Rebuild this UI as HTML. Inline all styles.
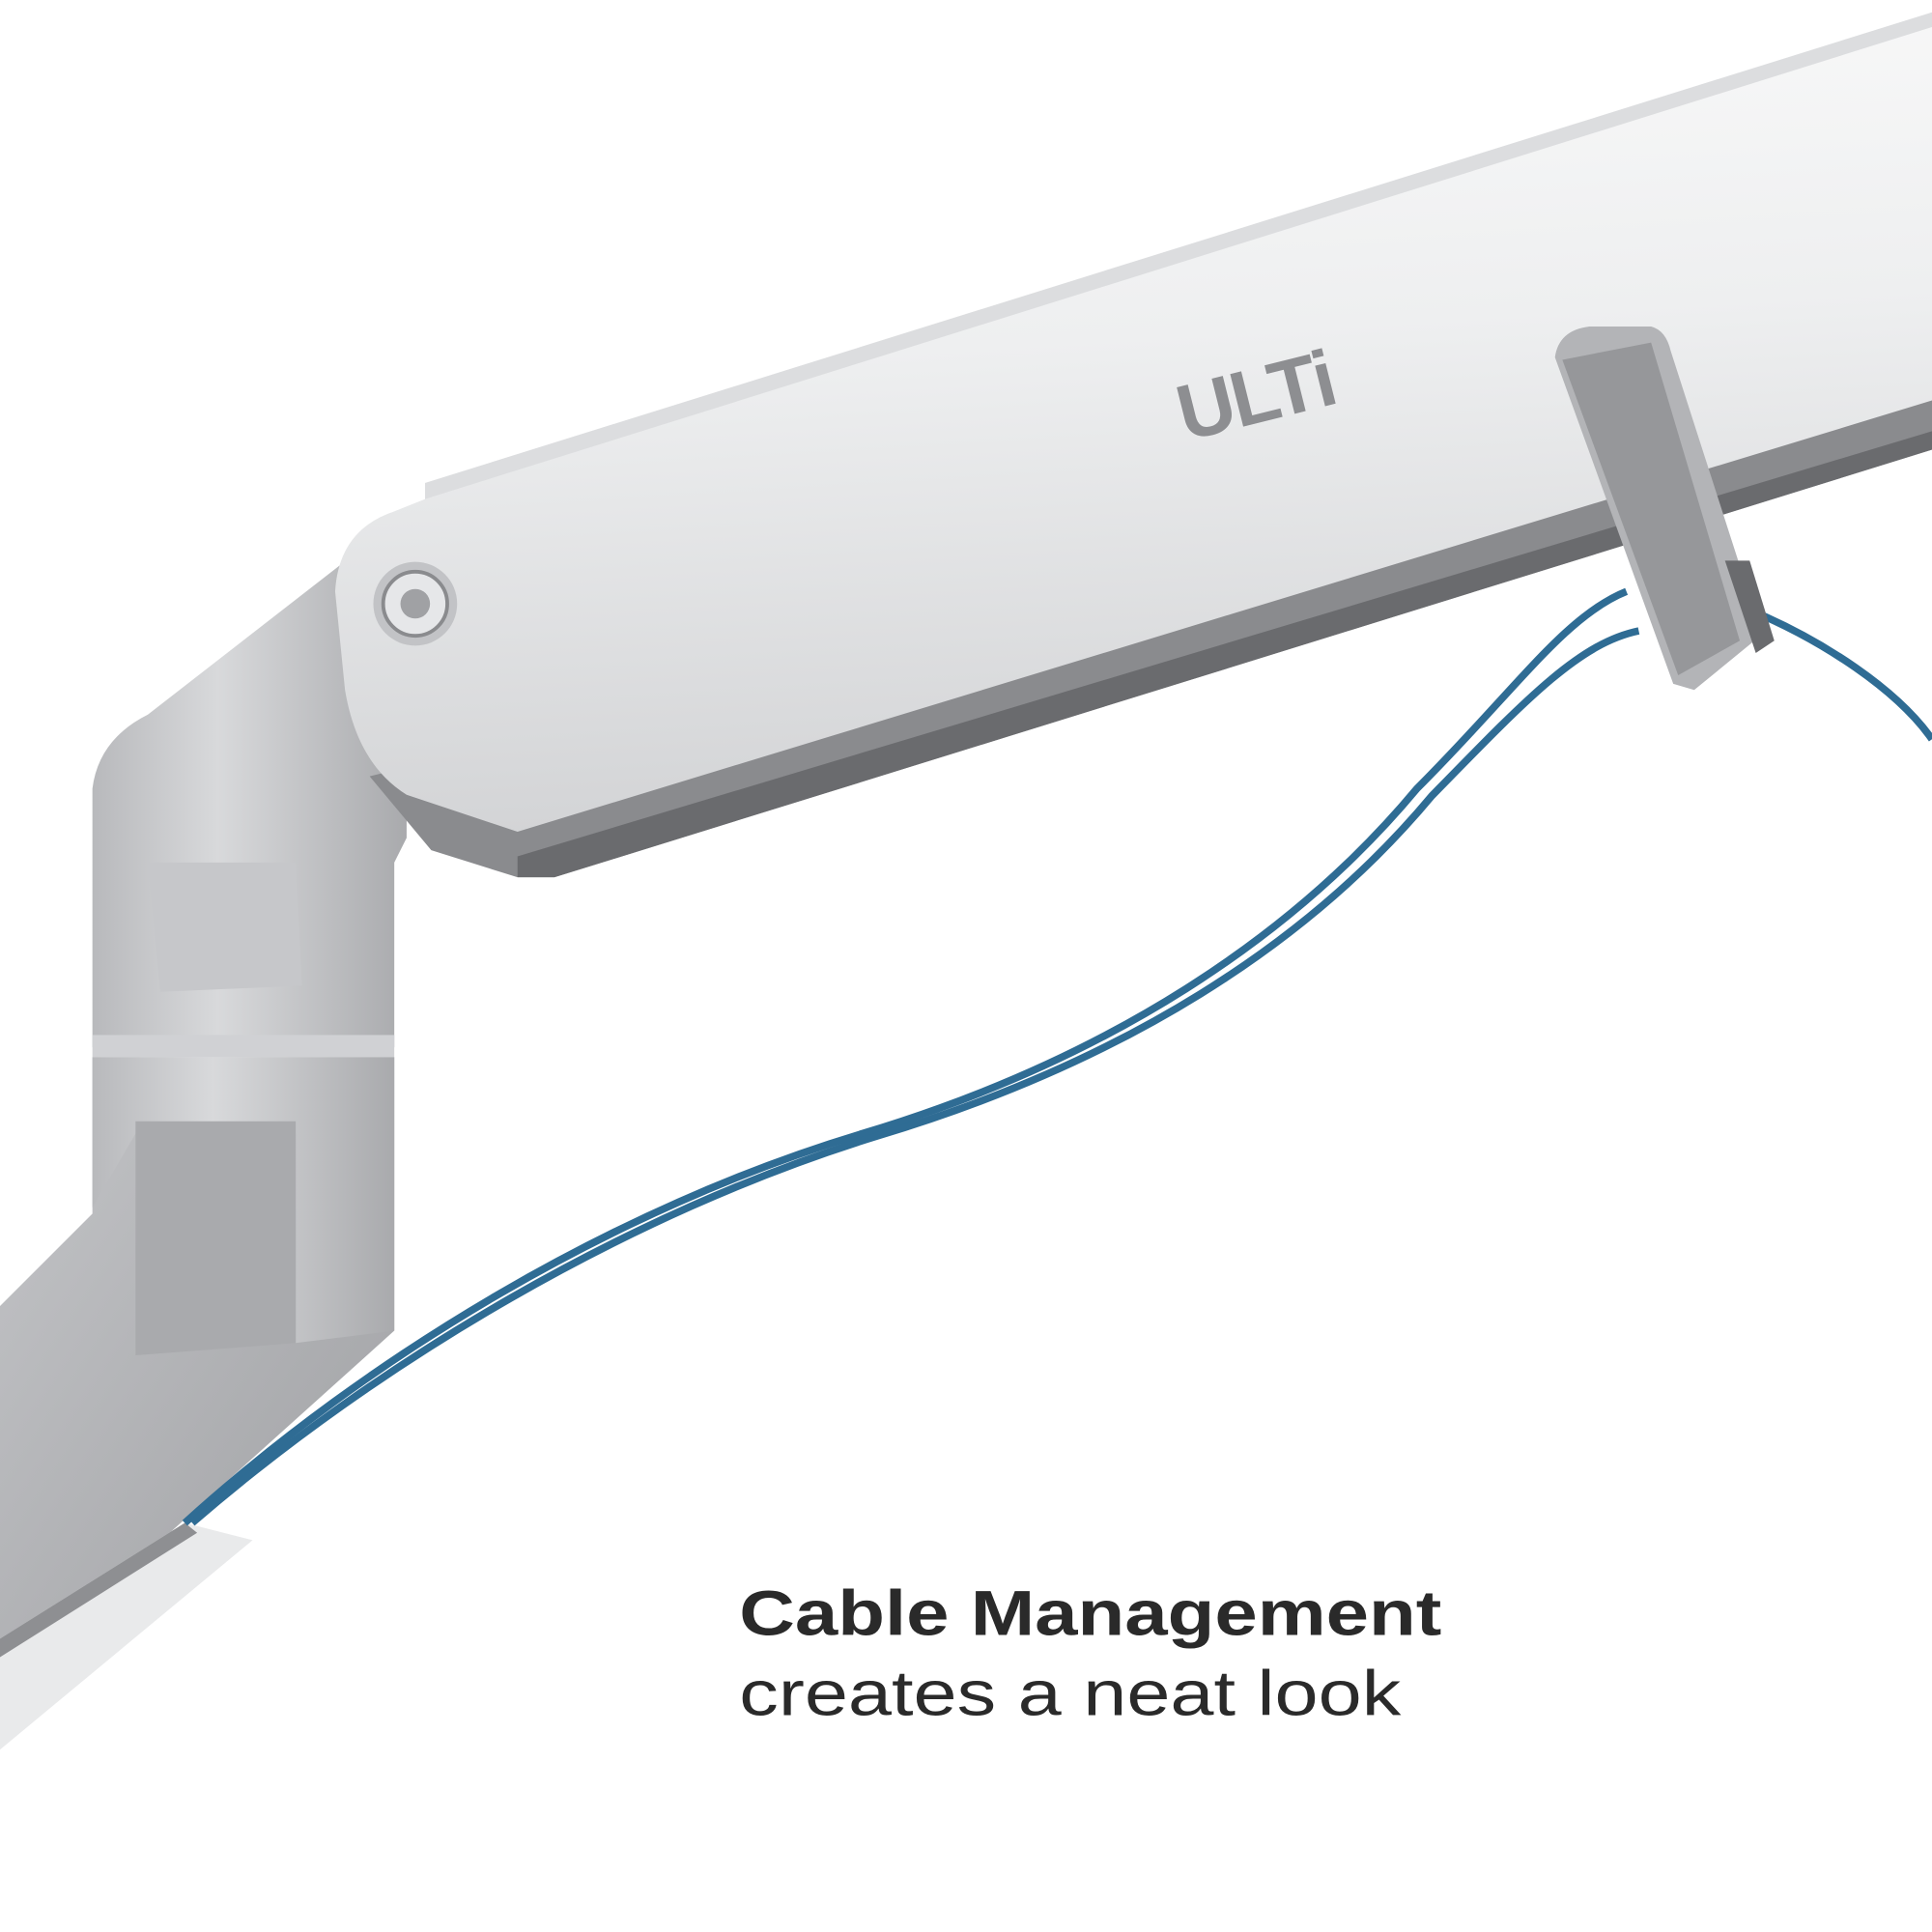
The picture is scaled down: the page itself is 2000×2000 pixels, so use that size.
<!DOCTYPE html>
<html><head><meta charset="utf-8"><style>
html,body{margin:0;padding:0;background:#fff;width:2000px;height:2000px;overflow:hidden}
svg{display:block}
</style></head><body>
<svg width="2000" height="2000" viewBox="0 0 1568 1568" xmlns="http://www.w3.org/2000/svg">
<defs>
<linearGradient id="bar" x1="0" y1="0" x2="0.12" y2="1">
<stop offset="0" stop-color="#fafafa"/><stop offset="0.45" stop-color="#eeeff0"/><stop offset="1" stop-color="#d3d4d6"/></linearGradient>
<linearGradient id="joint" x1="0" y1="0" x2="1" y2="0">
<stop offset="0" stop-color="#b8b9bc"/><stop offset="0.4" stop-color="#d8d9db"/><stop offset="1" stop-color="#a9aaad"/></linearGradient>
<linearGradient id="low" x1="0" y1="0" x2="1" y2="1">
<stop offset="0" stop-color="#c4c5c8"/><stop offset="1" stop-color="#9fa0a3"/></linearGradient>
</defs>
<rect width="1568" height="1568" fill="#fff"/>
<!-- lower arm -->
<path d="M0 1060 L75 985 L75 858 L320 858 L320 1080 L120 1260 L0 1340 Z" fill="url(#low)"/>
<path d="M0 1330 L150 1236 L205 1250 L0 1420 Z" fill="#e9eaeb"/>
<path d="M0 1330 L150 1236 L160 1244 L0 1345 Z" fill="#8e8f92"/>
<!-- joint -->
<path d="M75 640 Q80 600 120 580 L300 440 L330 560 L330 680 L320 700 L320 850 L75 850 Z" fill="url(#joint)"/>
<path d="M120 700 L240 700 L245 800 L130 805 Z" fill="#c6c7ca"/>
<rect x="75" y="840" width="245" height="18" fill="#d0d1d4"/>
<path d="M75 858 L320 858 L320 1080 L240 1090 L240 920 L110 920 L75 980 Z" fill="url(#joint)"/>
<path d="M110 910 L240 910 L240 1090 L110 1100 Z" fill="#a9aaad"/>
<!-- underside dark strip -->
<path d="M300 630 L1568 320 L1568 365 L450 712 L420 712 L350 690 Z" fill="#8a8b8e"/>
<path d="M420 695 L1568 350 L1568 365 L450 712 L420 712 Z" fill="#6a6b6e"/>
<!-- main bar -->
<path d="M345 392 L1568 10 L1568 325 L420 675 L330 645 Q290 620 280 560 L272 480 Q275 430 320 415 L345 405 Z" fill="url(#bar)"/>
<path d="M345 392 L1568 10 L1568 22 L345 405 Z" fill="#dcdddf"/>
<!-- screw -->
<circle cx="337" cy="490" r="34" fill="#c2c3c6"/>
<circle cx="337" cy="490" r="26" fill="#e6e7e9" stroke="#8a8b8e" stroke-width="3"/>
<circle cx="337" cy="490" r="12" fill="#a0a1a4"/>
<!-- logo -->
<text x="0" y="0" transform="translate(962,358) rotate(-14)" font-family="Liberation Sans, sans-serif" font-weight="bold" font-size="64" fill="#8d8e91" letter-spacing="-2">ULTi</text>
<!-- cables -->
<g fill="none" stroke="#2f6c94" stroke-width="6">
<path d="M150 1236 C300 1100 500 980 700 920 C900 860 1050 760 1150 640 C1230 560 1270 500 1320 480"/>
<path d="M156 1236 C306 1106 510 984 712 922 C912 862 1062 766 1162 646 C1240 566 1282 522 1330 512"/>
<path d="M1420 495 C1480 520 1540 560 1568 600"/>
</g>
<!-- clip -->
<path d="M1262 290 Q1265 268 1290 265 L1340 265 Q1352 268 1356 285 L1430 515 L1375 560 L1358 555 Z" fill="#b3b4b7"/>
<path d="M1268 292 L1340 278 L1412 520 L1362 548 Z" fill="#96979a"/>
<path d="M1400 455 L1420 455 L1440 520 L1425 530 Z" fill="#6a6b6e"/>
<!-- text -->
<text x="600" y="1327" font-family="Liberation Sans, sans-serif" font-weight="bold" font-size="52" fill="#2a2a2a" textLength="570" lengthAdjust="spacingAndGlyphs">Cable Management</text>
<text x="600" y="1392" font-family="Liberation Sans, sans-serif" font-size="52" fill="#2a2a2a" textLength="537" lengthAdjust="spacingAndGlyphs">creates a neat look</text>
</svg>
</body></html>
